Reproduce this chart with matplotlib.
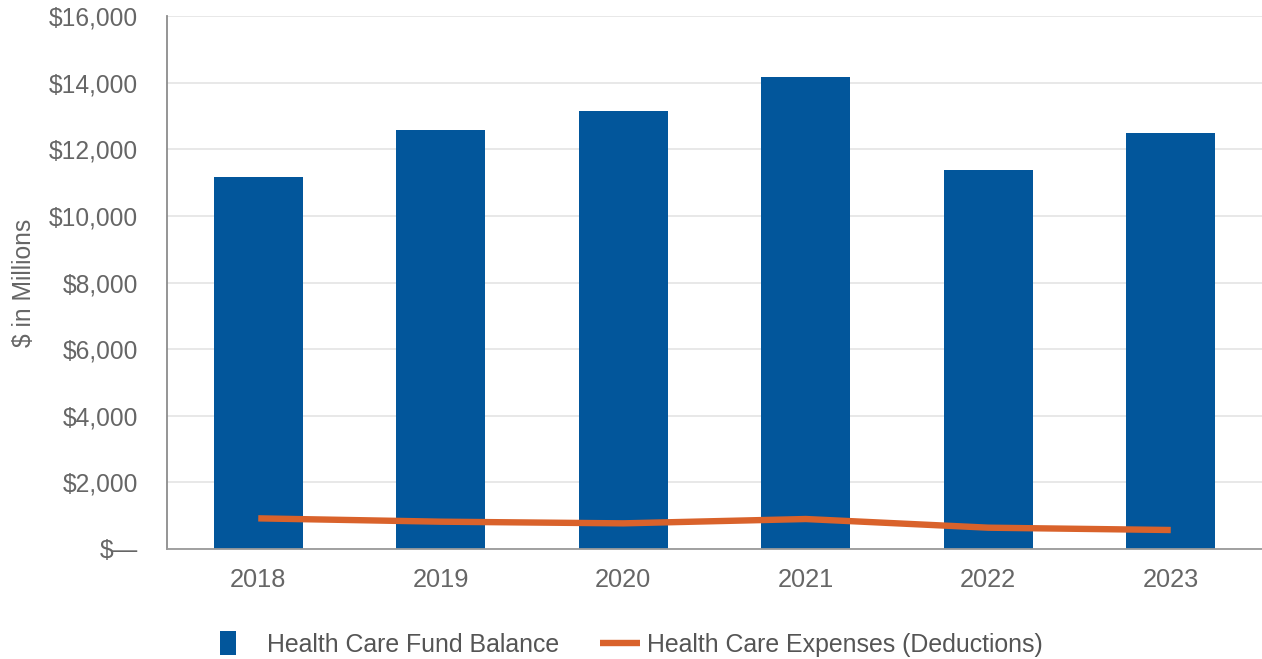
import matplotlib
matplotlib.use("Agg")
import matplotlib.pyplot as plt
from matplotlib.lines import Line2D
from matplotlib.patches import Rectangle
from matplotlib.legend_handler import HandlerBase
from matplotlib.ticker import FuncFormatter

years = ["2018", "2019", "2020", "2021", "2022", "2023"]
fund_balance = [11170, 12590, 13160, 14170, 11390, 12500]
expenses = [920, 820, 770, 900, 640, 570]
y_ticks = [0, 2000, 4000, 6000, 8000, 10000, 12000, 14000, 16000]

BAR_COLOR = "#02569B"
LINE_COLOR = "#D9622B"
TXT = "#666666"
FS_Y = 17.7
FS = 18.3
FS_LEG = 17.9

plt.rcParams["font.family"] = ["Liberation Sans", "DejaVu Sans"]

fig = plt.figure(figsize=(12.62, 6.59), dpi=100)
ax = fig.add_axes([167 / 1262, 110 / 659, 1 - 167 / 1262, (549 - 16) / 659])

x = list(range(len(years)))
ax.bar(x, fund_balance, width=0.485, color=BAR_COLOR, zorder=2,
       label="Health Care Fund Balance")
ax.plot(x, expenses, color=LINE_COLOR, lw=4.6, solid_capstyle="butt",
        solid_joinstyle="round", zorder=3,
        label="Health Care Expenses (Deductions)")

ax.set_xlim(-0.5, len(years) - 0.5)
ax.set_ylim(0, 16000)
ax.set_xticks(x)
ax.set_xticklabels(years)
ax.set_yticks(y_ticks)
ax.yaxis.set_major_formatter(FuncFormatter(lambda v, p: "$\u2014" if v == 0 else f"${int(v):,}"))
ax.tick_params(axis="both", length=0, labelcolor=TXT)
ax.tick_params(axis="y", pad=21, labelsize=FS_Y)
ax.tick_params(axis="x", pad=14, labelsize=FS)
ax.grid(axis="y", color="#e6e6e6", lw=1.3, zorder=0)
ax.set_axisbelow(True)
for s in ["top", "right"]:
    ax.spines[s].set_visible(False)
ax.spines["left"].set_color("#8c8c8c")
ax.spines["left"].set_linewidth(1.3)
ax.spines["bottom"].set_color("#9a9a9a")
ax.spines["bottom"].set_linewidth(1.3)

ax.set_ylabel("$ in Millions", fontsize=FS_Y, color=TXT)
ax.yaxis.set_label_coords(-(167 - 36) / 1095, 0.5)


class SquareHandler(HandlerBase):
    def create_artists(self, legend, orig_handle, xdescent, ydescent, width,
                       height, fontsize, trans):
        w, h = 11.5, 17.3
        r = Rectangle((-xdescent, -ydescent + height / 2 - h / 2), w, h,
                      facecolor=BAR_COLOR, edgecolor="none", transform=trans)
        return [r]


bar_handle = Rectangle((0, 0), 1, 1, color=BAR_COLOR)
line_handle = Line2D([], [], color=LINE_COLOR, lw=4.6, solid_capstyle="butt")
leg = fig.legend([bar_handle, line_handle],
                 ["Health Care Fund Balance", "Health Care Expenses (Deductions)"],
                 handler_map={Rectangle: SquareHandler()},
                 loc="center", bbox_to_anchor=(0.5, 1 - 645 / 659), ncol=2,
                 frameon=False, fontsize=FS_LEG, handlelength=1.61,
                 handletextpad=0.28, columnspacing=1.65, borderaxespad=0)
for t in leg.get_texts():
    t.set_color("#555555")

fig.savefig("out.png", dpi=100)
